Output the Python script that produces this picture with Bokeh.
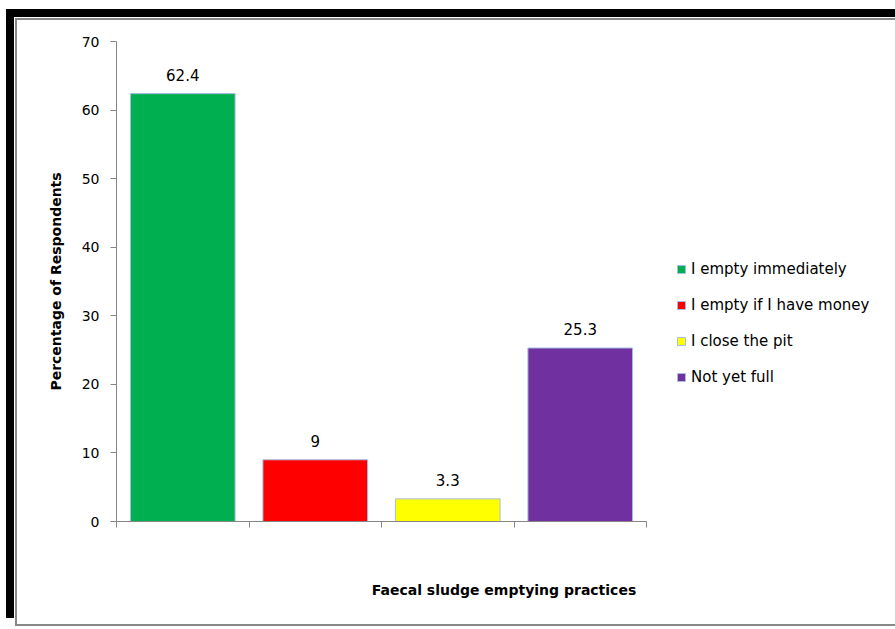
from bokeh.plotting import figure
from bokeh.models import Range1d, FixedTicker, Legend, LegendItem, ColumnDataSource
from bokeh.core.properties import value
from bokeh.embed import file_html
from bokeh.resources import INLINE

categories = ["I empty immediately", "I empty if I have money", "I close the pit", "Not yet full"]
values = [62.4, 9, 3.3, 25.3]
value_labels = ["62.4", "9", "3.3", "25.3"]
colors = ["#00B050", "#FF0000", "#FFFF00", "#7030A0"]
y_ticks = [0, 10, 20, 30, 40, 50, 60, 70]
x_title = "Faecal sludge emptying practices"
y_title = "Percentage of Respondents"

FONT = "DejaVu Sans"

# layout (pixels)
W, H = 881, 609
LEFT, TOP, BOTTOM, RIGHT = 102, 24, 105, 4
AXIS_W = 530  # width of the part of the frame carrying the categories

n = len(categories)
frame_w = W - LEFT - RIGHT
x_end = n * frame_w / AXIS_W

positions = [i + 0.5 for i in range(n)]
source = ColumnDataSource(dict(x=positions, top=values, color=colors, cat=categories, lab=value_labels))

p = figure(width=W, height=H, x_range=Range1d(0, x_end), y_range=Range1d(0, 70),
           output_backend="svg", toolbar_location=None,
           min_border_left=LEFT, min_border_right=RIGHT, min_border_top=TOP, min_border_bottom=BOTTOM)
p.styles = {
    "margin-left": "14px",
    "margin-top": "17px",
    "background-color": "white",
    "box-shadow": ("inset 1px 1px 0 0 white, inset 3px 3px 0 0 #888888, inset 0 -2px 0 0 #888888, "
                   "-8px -8px 0 0 black, 0 -8px 0 0 black"),
}
p.border_fill_color = None
p.background_fill_color = None
p.outline_line_color = None
p.xgrid.grid_line_color = None
p.ygrid.grid_line_color = None

bars = p.vbar(x="x", top="top", width=0.79, bottom=0, source=source,
              fill_color="color", line_color="#A7BDE6", line_width=1)

p.text(x="x", y="top", text="lab", source=source, text_align="center", text_baseline="bottom",
       y_offset=-13, text_font=value(FONT), text_font_size="15px", text_color="black")

# axes
p.yaxis.ticker = FixedTicker(ticks=y_ticks)
p.yaxis.axis_line_color = "#868686"
p.yaxis.major_tick_line_color = "#868686"
p.yaxis.major_tick_out = 6
p.yaxis.major_tick_in = 0
p.yaxis.minor_tick_line_color = None
p.yaxis.major_label_standoff = 11
p.yaxis.major_label_text_font = FONT
p.yaxis.major_label_text_font_size = "14px"
p.yaxis.major_label_text_color = "black"
p.yaxis.axis_label = y_title
p.yaxis.axis_label_text_font = FONT
p.yaxis.axis_label_text_font_style = "bold"
p.yaxis.axis_label_text_font_size = "14px"
p.yaxis.axis_label_text_color = "black"
p.yaxis.axis_label_standoff = 15

p.xaxis.bounds = (0, n)
p.xaxis.ticker = FixedTicker(ticks=list(range(n + 1)))
p.xaxis.major_label_overrides = {i: "" for i in range(n + 1)}
p.xaxis.axis_line_color = "#868686"
p.xaxis.major_tick_line_color = "#868686"
p.xaxis.major_tick_out = 6
p.xaxis.major_tick_in = 0
p.xaxis.minor_tick_line_color = None
p.xaxis.axis_label = x_title
p.xaxis.axis_label_text_font = FONT
p.xaxis.axis_label_text_font_style = "bold"
p.xaxis.axis_label_text_font_size = "14px"
p.xaxis.axis_label_text_color = "black"
p.xaxis.axis_label_standoff = 54

items = [LegendItem(label=c, renderers=[bars], index=i) for i, c in enumerate(categories)]
legend = Legend(items=items, location=(560, 134), glyph_width=10, glyph_height=10, label_standoff=5,
                spacing=16, label_height=20, padding=0, margin=0, border_line_color=None,
                background_fill_alpha=0, label_text_font=FONT, label_text_font_size="15px",
                label_text_color="black")
p.add_layout(legend)

open("out.html", "w").write(file_html(p, INLINE))
